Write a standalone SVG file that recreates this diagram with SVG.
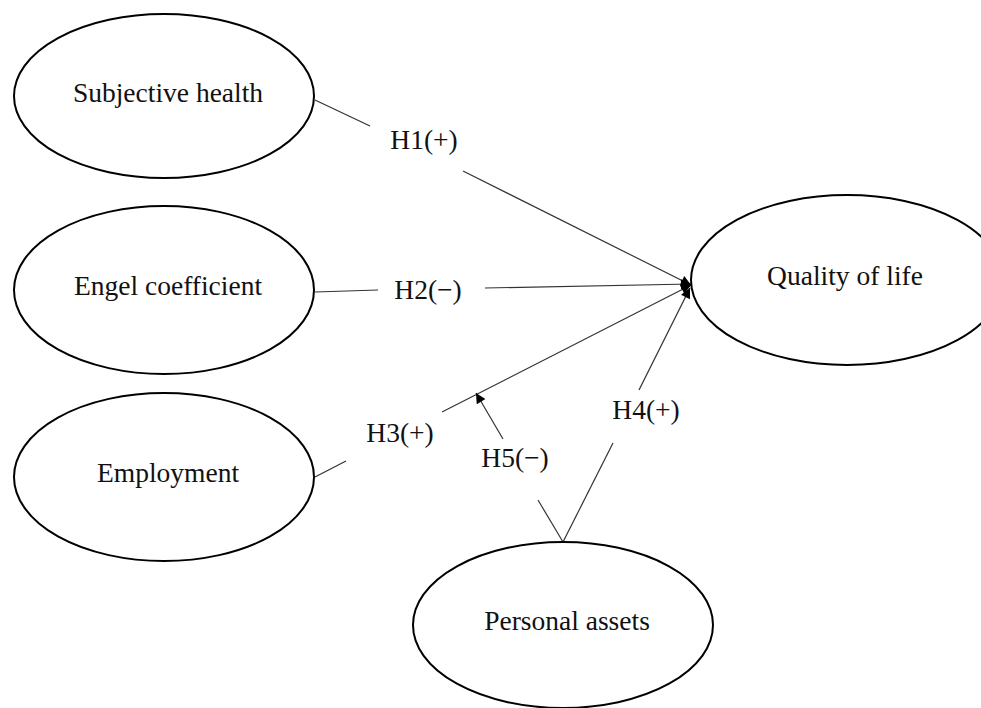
<svg xmlns="http://www.w3.org/2000/svg" width="981" height="708" viewBox="0 0 981 708">
<style>
.node ellipse{fill:#fff;stroke:#000;stroke-width:2}
text{font-family:"Liberation Serif","Times New Roman",serif;font-size:27.5px;fill:#111;text-anchor:middle}
.conn line{stroke:#333;stroke-width:1.2}
</style>
<defs>
<marker id="ah" viewBox="0 0 10 10" refX="10" refY="5" markerWidth="13" markerHeight="10" markerUnits="userSpaceOnUse" orient="auto">
<path d="M0,0 L10,5 L0,10 z" fill="#000"/>
</marker>
</defs>
<rect width="981" height="708" fill="#fff"/>
<g id="connectors" class="conn">
<line x1="315" y1="100" x2="370" y2="126"/>
<line x1="463" y1="171" x2="691" y2="285" marker-end="url(#ah)"/>
<line x1="315" y1="292" x2="378" y2="290"/>
<line x1="485" y1="288" x2="691" y2="284" marker-end="url(#ah)"/>
<line x1="315" y1="477" x2="346" y2="461"/>
<line x1="442" y1="412" x2="691" y2="285" marker-end="url(#ah)"/>
<line x1="563" y1="542" x2="613" y2="443"/>
<line x1="639" y1="390" x2="690" y2="288" marker-end="url(#ah)"/>
<line x1="563" y1="542" x2="538" y2="500"/>
<line x1="503" y1="439" x2="476" y2="393" marker-end="url(#ah)"/>
</g>
<g id="labels">
<text x="424" y="149">H1(+)</text>
<text x="428" y="299">H2(−)</text>
<text x="400" y="442">H3(+)</text>
<text x="646" y="419">H4(+)</text>
<text x="515" y="467">H5(−)</text>
</g>
<g id="subjective-health" class="node">
<ellipse cx="164" cy="96" rx="150" ry="82"/>
<text x="168" y="102">Subjective health</text>
</g>
<g id="engel-coefficient" class="node">
<ellipse cx="164" cy="290" rx="150" ry="84"/>
<text x="168" y="295">Engel coefficient</text>
</g>
<g id="employment" class="node">
<ellipse cx="164" cy="477" rx="150" ry="84"/>
<text x="168" y="482">Employment</text>
</g>
<g id="quality-of-life" class="node">
<ellipse cx="847" cy="280" rx="156" ry="85"/>
<text x="845" y="285">Quality of life</text>
</g>
<g id="personal-assets" class="node">
<ellipse cx="563" cy="625" rx="150" ry="83"/>
<text x="567" y="630">Personal assets</text>
</g>
</svg>
